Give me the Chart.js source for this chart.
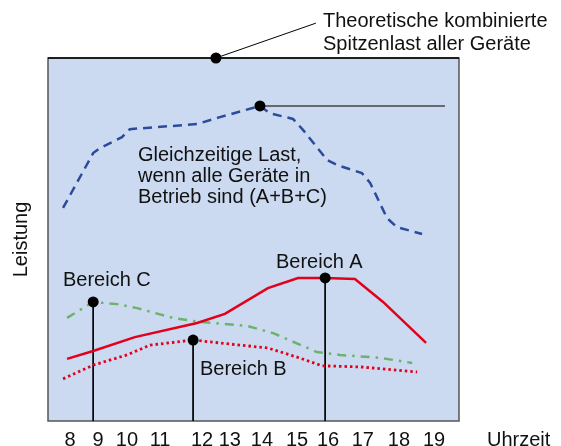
<!DOCTYPE html>
<html>
<head>
<meta charset="utf-8">
<script src="https://cdn.jsdelivr.net/npm/chart.js@4.4.1/dist/chart.umd.min.js"></script>
<style>
  body { margin: 0; background: #fff; }
  #wrap { width: 561px; height: 446px; }
</style>
</head>
<body>
<div id="wrap"><canvas id="chart" width="561" height="446"></canvas></div>
<script>
// x axis in hours, y axis in arbitrary power units (0..100 = plot height)
var tickHours = [8, 8.85, 9.72, 10.72, 11.99, 12.83, 13.80, 14.86, 15.80, 16.85, 17.94, 19.0];
var tickLabels = ['8', '9', '10', '11', '12', '13', '14', '15', '16', '17', '18', '19'];

// Gleichzeitige Last (A+B+C)
var hoursTotal = [7.79, 8.70, 8.91, 9.57, 9.81, 11.84, 12.53, 13.74, 14.04, 14.74, 15.04, 15.77, 16.07, 16.82, 17.07, 17.58, 17.88, 18.64];
var loadTotal  = [58.7, 73.8, 75.2, 78.2, 80.4, 81.8, 83.7, 86.8, 84.8, 83.2, 80.2, 71.9, 70.5, 68.3, 65.6, 55.9, 53.4, 51.5];

// Bereich A
var hoursA = [7.91, 8.70, 9.96, 11.84, 12.68, 13.98, 14.89, 15.71, 16.61, 17.46, 18.76];
var loadA  = [17.1, 19.3, 23.1, 27.0, 29.5, 36.6, 39.4, 39.4, 39.1, 32.8, 21.5];

// Bereich B
var hoursB = [7.79, 8.70, 9.72, 10.42, 11.72, 13.14, 13.98, 14.86, 15.62, 16.76, 18.49];
var loadB  = [11.6, 15.4, 18.2, 20.9, 22.3, 20.9, 20.1, 17.6, 15.2, 14.9, 13.5];

// Bereich C
var hoursC = [7.91, 8.70, 9.42, 10.03, 11.11, 11.93, 13.35, 14.14, 15.46, 16.16, 17.37, 18.34];
var loadC  = [28.4, 32.8, 32.2, 31.1, 28.4, 27.3, 26.2, 24.2, 19.0, 18.2, 17.4, 16.0];

// markers: C, B, A, simultaneous peak, theoretical peak
var markerHours = [8.70, 11.72, 15.71, 13.74, 12.41];
var markerLoad  = [32.8, 22.3, 39.4, 86.8, 100];

var peakLineEnd = 19.33;
var leaderEnd = {x: 15.43, y: 109.6};

var FONT = '"Liberation Sans", Arial, sans-serif';

function pts(xs, ys) {
    var out = [];
    for (var i = 0; i < xs.length; i++) {
        out.push({x: xs[i], y: ys[i]});
    }
    return out;
}

function guide(a, b, w, c) {
    return {
        data: [a, b],
        borderColor: c || '#000',
        borderWidth: w || 1,
        pointRadius: 0,
        clip: false
    };
}

var texts = [
    {t: 'Theoretische kombinierte', x: 323, y: 21},
    {t: 'Spitzenlast aller Geräte', x: 323, y: 44},
    {t: 'Gleichzeitige Last,', x: 138, y: 155},
    {t: 'wenn alle Geräte in', x: 138, y: 176},
    {t: 'Betrieb sind (A+B+C)', x: 138, y: 197},
    {t: 'Bereich C', x: 63, y: 280},
    {t: 'Bereich A', x: 276, y: 262},
    {t: 'Bereich B', x: 200, y: 369},
    {t: 'Uhrzeit', x: 487, y: 440}
];

var decor = {
    id: 'decor',
    beforeDatasetsDraw: function(c) {
        var a = c.chartArea, ctx = c.ctx;
        ctx.save();
        ctx.fillStyle = '#cbdaf0';
        ctx.fillRect(a.left, a.top, a.right - a.left, a.bottom - a.top);
        ctx.lineWidth = 1.5;
        ctx.strokeStyle = '#555';
        ctx.strokeRect(a.left, a.top, a.right - a.left, a.bottom - a.top);
        ctx.strokeStyle = '#000';
        ctx.beginPath();
        ctx.moveTo(a.left, a.top);
        ctx.lineTo(a.right, a.top);
        ctx.stroke();
        ctx.restore();
    },
    afterDraw: function(c) {
        var ctx = c.ctx;
        ctx.save();
        ctx.fillStyle = '#111';
        ctx.font = '20px ' + FONT;
        ctx.textBaseline = 'middle';
        ctx.textAlign = 'left';
        texts.forEach(function(l) { ctx.fillText(l.t, l.x, l.y); });
        ctx.restore();
    }
};

new Chart(document.getElementById('chart'), {
    type: 'line',
    data: {
        datasets: [
            {
                data: pts(markerHours, markerLoad),
                showLine: false,
                pointRadius: 5.5,
                pointBackgroundColor: '#000',
                pointBorderWidth: 0,
                clip: false
            },
            {
                data: pts(hoursTotal, loadTotal),
                borderColor: '#2d4b9c',
                borderWidth: 2.5,
                borderDash: [9, 6],
                pointRadius: 0
            },
            {
                data: pts(hoursA, loadA),
                borderColor: '#e3001b',
                borderWidth: 2.5,
                pointRadius: 0
            },
            {
                data: pts(hoursB, loadB),
                borderColor: '#e3001b',
                borderWidth: 2.8,
                borderDash: [2.5, 3],
                pointRadius: 0
            },
            {
                data: pts(hoursC, loadC),
                borderColor: '#6db36d',
                borderWidth: 2.5,
                borderDash: [9, 6, 2.5, 6],
                pointRadius: 0
            },
            guide({x: markerHours[0], y: markerLoad[0]}, {x: markerHours[0], y: 0}),
            guide({x: markerHours[1], y: markerLoad[1]}, {x: markerHours[1], y: 0}),
            guide({x: markerHours[2], y: markerLoad[2]}, {x: markerHours[2], y: 0}),
            guide({x: markerHours[3], y: markerLoad[3]}, {x: peakLineEnd, y: markerLoad[3]}, 1.5, '#444'),
            guide({x: markerHours[4], y: markerLoad[4]}, leaderEnd)
        ]
    },
    options: {
        responsive: false,
        animation: false,
        events: [],
        layout: { padding: { top: 58, right: 102, left: 0, bottom: 0 } },
        plugins: { legend: { display: false }, tooltip: { enabled: false } },
        scales: {
            x: {
                type: 'linear',
                min: 7.335,
                max: 19.755,
                grid: { display: false, drawTicks: false, tickLength: 0 },
                border: { display: false },
                afterBuildTicks: function(s) {
                    s.ticks = tickHours.map(function(v) { return {value: v}; });
                },
                afterFit: function(s) { s.height = 25; },
                ticks: {
                    autoSkip: false,
                    maxRotation: 0,
                    padding: 7,
                    color: '#111',
                    font: { family: FONT, size: 20 },
                    callback: function(v, i) { return tickLabels[i]; }
                }
            },
            y: {
                min: 0,
                max: 100,
                grid: { display: false },
                border: { display: false },
                ticks: { display: false },
                afterFit: function(s) { s.width = 48; },
                title: {
                    display: true,
                    text: 'Leistung',
                    color: '#111',
                    padding: { top: 9, bottom: 0 },
                    font: { family: FONT, size: 20 }
                }
            }
        }
    },
    plugins: [decor]
});
</script>
</body>
</html>
